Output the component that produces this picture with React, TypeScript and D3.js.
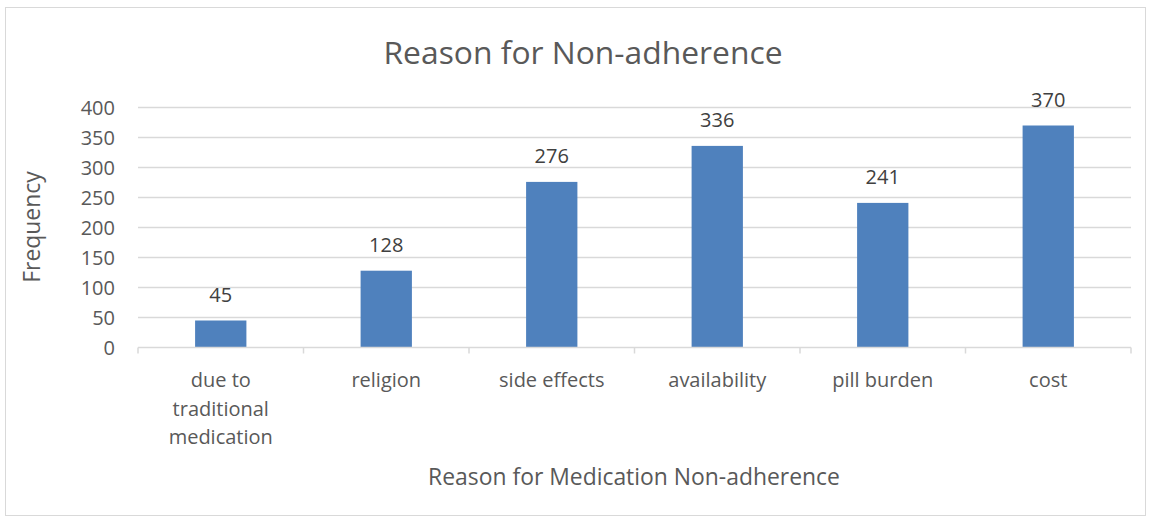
import React from 'react';
import * as d3 from 'd3';

const categories = ['due to traditional medication', 'religion', 'side effects', 'availability', 'pill burden', 'cost'];
const categoryLines = [['due to', 'traditional', 'medication'], ['religion'], ['side effects'], ['availability'], ['pill burden'], ['cost']];
const frequencies = [45, 128, 276, 336, 241, 370];
const yTicks = [0, 50, 100, 150, 200, 250, 300, 350, 400];

const W = 1151;
const H = 521;
const FONT = '"Open Sans", sans-serif';
const TEXT = '#595959';

const App: React.FC = () => {
    const x = d3.scaleBand<string>()
        .domain(categories)
        .range([138, 1131])
        .paddingInner(0.69)
        .paddingOuter(0.345);

    const y = d3.scaleLinear()
        .domain([0, 400])
        .range([347.5, 107.5]);

    const step = x.step();
    const left = 138;

    return (
        <svg width={W} height={H} style={{ position: 'absolute', left: 0, top: 0 }}>
            <rect x={0} y={0} width={W} height={H} fill="#fff" />
            <rect x={5.5} y={7.5} width={1140} height={508} fill="#fff" stroke="#d9d9d9" strokeWidth={1} />

            <text x={583} y={64} textAnchor="middle" fontFamily={FONT} fontSize={31.8} fill={TEXT}>
                Reason for Non-adherence
            </text>

            {/* gridlines */}
            {yTicks.filter(t => t > 0).map(t => (
                <line key={t} x1={left} x2={1131} y1={y(t)} y2={y(t)} stroke="#d9d9d9" strokeWidth={1.5} />
            ))}

            {/* y tick labels */}
            {yTicks.map(t => (
                <text key={t} x={115} y={y(t)} dy="0.35em" textAnchor="end" fontFamily={FONT} fontSize={20} fill={TEXT}>
                    {t}
                </text>
            ))}

            {/* bars */}
            {categories.map((c, i) => (
                <rect key={c} x={x(c)} y={y(frequencies[i])} width={x.bandwidth()} height={y(0) - y(frequencies[i])} fill="#4f81bd" />
            ))}

            {/* data labels */}
            {categories.map((c, i) => (
                <text key={c} x={(x(c) ?? 0) + x.bandwidth() / 2} y={y(frequencies[i]) - 19} textAnchor="middle" fontFamily={FONT} fontSize={20} fill="#404040">
                    {frequencies[i]}
                </text>
            ))}

            {/* x axis */}
            <line x1={left} x2={1131} y1={y(0)} y2={y(0)} stroke="#d9d9d9" strokeWidth={1.5} />
            {d3.range(categories.length + 1).map(i => (
                <line key={i} x1={left + i * step} x2={left + i * step} y1={y(0)} y2={y(0) + 6} stroke="#d9d9d9" strokeWidth={1.5} />
            ))}

            {/* x tick labels */}
            {categories.map((c, i) => (
                <text key={c} textAnchor="middle" fontFamily={FONT} fontSize={20} fill={TEXT}>
                    {categoryLines[i].map((line, j) => (
                        <tspan key={j} x={(x(c) ?? 0) + x.bandwidth() / 2} y={387 + j * 28.5}>{line}</tspan>
                    ))}
                </text>
            ))}

            <text x={634} y={485} textAnchor="middle" fontFamily={FONT} fontSize={22.9} fill={TEXT}>
                Reason for Medication Non-adherence
            </text>

            <text transform="translate(40,227) rotate(-90)" textAnchor="middle" fontFamily={FONT} fontSize={22.9} fill={TEXT}>
                Frequency
            </text>
        </svg>
    );
};

export default App;
